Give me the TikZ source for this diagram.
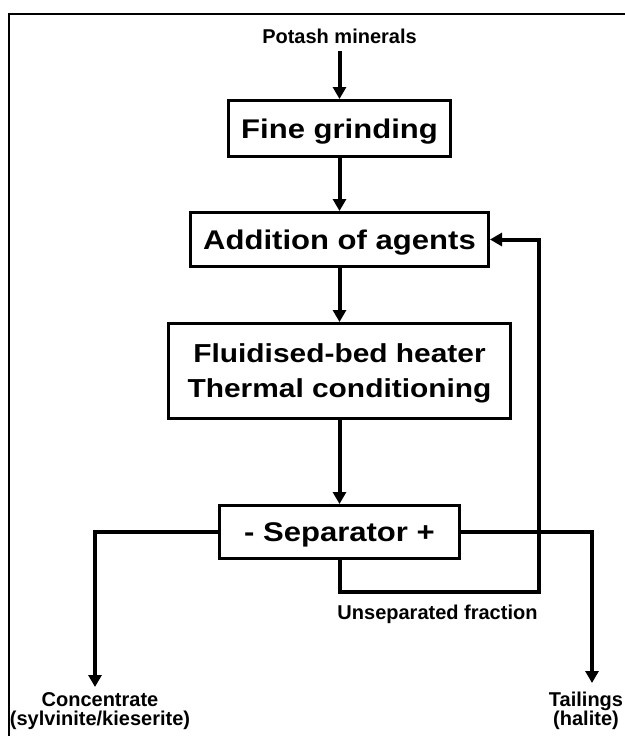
\documentclass[tikz,border=0pt]{standalone}
\usepackage{fontspec}
\setmainfont{Liberation Sans}
\newfontfamily\stagefont{Liberation Sans}[FakeStretch=1.15]
\usepackage{tikz}
\usetikzlibrary{arrows.meta,positioning}
\definecolor{fsedge}{RGB}{0,0,0}
\tikzset{
  stagebox/.style={
    draw=fsedge, line width=3pt, align=center, inner sep=0pt,
    font=\stagefont\bfseries\fontsize{27}{31}\selectfont, text depth=0pt
  },
  arr/.style={-{Triangle[length=12pt,width=13pt]}, draw=fsedge, line width=4pt},
  lbl/.style={font=\bfseries\fontsize{20}{19}\selectfont, align=center, inner sep=0pt},
  frm/.style={draw=fsedge, line width=2pt},
  every picture/.append style={line join=miter}
}

\begin{document}
\begin{tikzpicture}[x=1pt, y=-1pt, node distance=53pt]
  \useasboundingbox (0,0) rectangle (624,736);
  \fill[white] (0,0) rectangle (624,736);
  \draw[frm] (9,760) -- (9,14) -- (650,14);

  \node[lbl, anchor=base, inner ysep=8pt] (feed) at (339.5,43) {Potash minerals};
  \node[stagebox, minimum width=222pt, minimum height=56pt] (grind) at (339.5,128.5) {Fine grinding};
  \node[stagebox, minimum width=298pt, minimum height=54pt, below=of grind] (agents) {Addition of agents};
  \node[stagebox, minimum width=342pt, minimum height=95pt, below=54pt of agents,
        font=\stagefont\bfseries\fontsize{26}{35}\selectfont] (heater)
    {Fluidised-bed heater\\Thermal conditioning};
  \node[stagebox, minimum width=240pt, minimum height=53pt, below=84pt of heater] (sep) {- Separator +};

  \node[lbl, anchor=north] (unsep) at (437.5,605) {Unseparated fraction};
  \node[lbl, anchor=north] (conc) at (100,692) {Concentrate\\(sylvinite/kieserite)};
  \node[lbl, anchor=north] (tail) at (586,692) {Tailings\\(halite)};

  \coordinate (concend) at (95,687);
  \coordinate (tailend) at (592,683);
  \coordinate (loop) at (539,592);

  \draw[arr] (feed.south) -- (grind.north);
  \draw[arr] (grind.south) -- (agents.north);
  \draw[arr] (agents.south) -- (heater.north);
  \draw[arr] (heater.south) -- (sep.north);
  \draw[arr] (sep.west) -| (concend);
  \draw[arr] (sep.east) -| (tailend);
  \draw[arr] (sep.south) |- (loop) |- (agents.east);
\end{tikzpicture}
\end{document}
